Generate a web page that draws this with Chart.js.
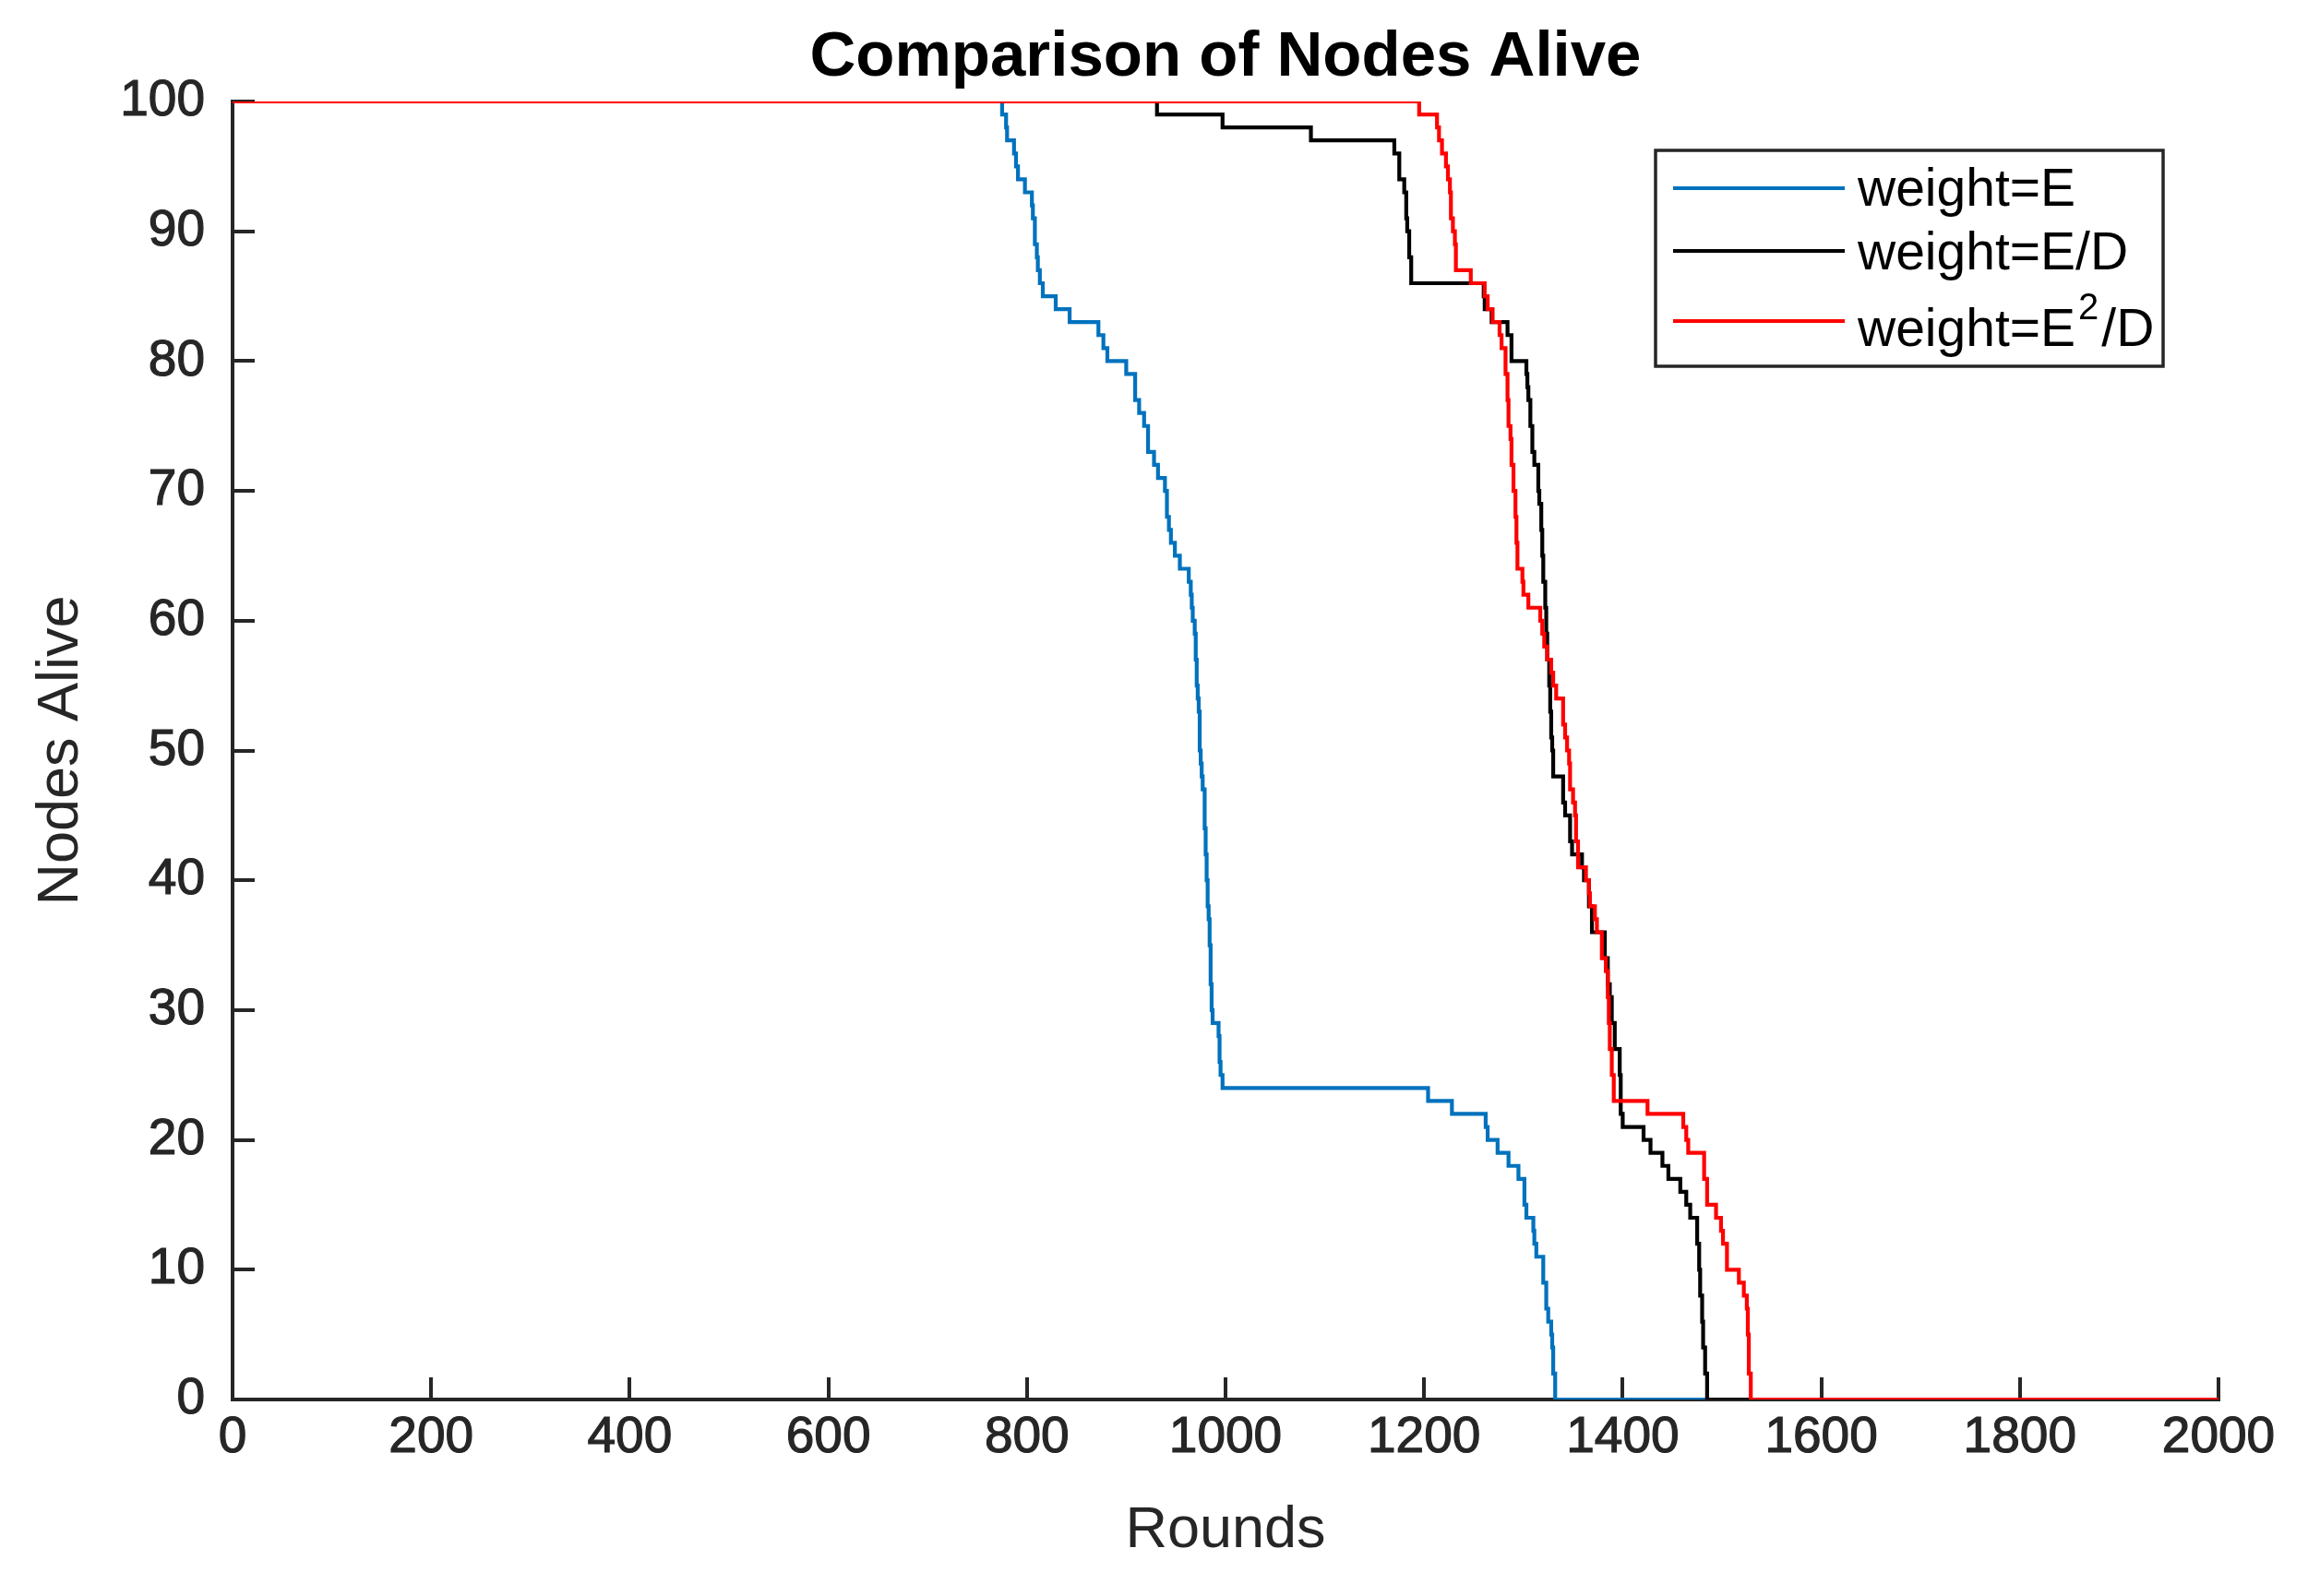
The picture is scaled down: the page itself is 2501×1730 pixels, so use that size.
<!DOCTYPE html>
<html>
<head>
<meta charset="utf-8">
<script src="https://cdn.jsdelivr.net/npm/chart.js@4.4.1/dist/chart.umd.min.js"></script>
<style>
  html, body { margin: 0; padding: 0; background: #fff; }
  canvas { display: block; }
</style>
</head>
<body>
<canvas id="aliveChart" width="2501" height="1730"></canvas>
<script>
// Nodes alive per round (step points: round where the count changes)
const roundsE = [0, 775, 779, 780, 787, 789, 791, 798, 805, 806, 808, 810, 811, 813, 816, 829, 843, 872, 877, 881,
  900, 909, 913, 918, 922, 928, 932, 939, 941, 943, 945, 949, 954, 963, 965, 966, 967, 969, 970, 971,
  972, 973, 974, 975, 976, 977, 979, 980, 981, 982, 983, 984, 985, 986, 987, 993, 994, 995, 997, 1204,
  1228, 1262, 1264, 1274, 1285, 1295, 1301, 1303, 1310, 1311, 1313, 1320, 1323, 1325, 1328, 1329, 1330, 1332, 2000];
const aliveE = [100, 99, 98, 97, 96, 95, 94, 93, 92, 91, 89, 88, 87, 86, 85, 84, 83, 82, 81, 80,
  79, 77, 76, 75, 73, 72, 71, 70, 68, 67, 66, 65, 64, 63, 62, 61, 60, 59, 57, 55,
  54, 53, 50, 49, 48, 47, 44, 42, 40, 38, 37, 35, 32, 30, 29, 28, 26, 25, 24, 23,
  22, 21, 20, 19, 18, 17, 15, 14, 13, 12, 11, 9, 7, 6, 5, 4, 2, 0, 0];

const roundsED = [0, 931, 997, 1086, 1170, 1175, 1180, 1182, 1183, 1185, 1187, 1260, 1261, 1268, 1284, 1288, 1303, 1304, 1305, 1307,
  1309, 1311, 1315, 1316, 1318, 1319, 1320, 1322, 1323, 1324, 1326, 1327, 1328, 1329, 1330, 1340, 1342, 1347, 1349, 1359,
  1361, 1366, 1369, 1382, 1385, 1387, 1389, 1392, 1397, 1398, 1400, 1421, 1428, 1440, 1446, 1458, 1464, 1468, 1475, 1477,
  1478, 1480, 1481, 1483, 1485, 2000];
const aliveED = [100, 99, 98, 97, 96, 94, 93, 91, 90, 88, 86, 85, 84, 83, 82, 80, 79, 78, 77, 75,
  73, 72, 70, 69, 67, 65, 63, 61, 59, 57, 55, 53, 51, 50, 48, 46, 45, 43, 42, 41,
  40, 38, 36, 34, 32, 31, 29, 27, 25, 22, 21, 20, 19, 18, 17, 16, 15, 14, 12, 10,
  8, 6, 4, 2, 0, 0];

const roundsE2D = [0, 1195, 1213, 1215, 1218, 1222, 1224, 1226, 1227, 1229, 1231, 1232, 1247, 1261, 1264, 1269, 1276, 1278, 1282, 1284,
  1285, 1287, 1288, 1290, 1292, 1293, 1294, 1299, 1300, 1305, 1317, 1319, 1321, 1324, 1328, 1330, 1333, 1340, 1342, 1344,
  1346, 1347, 1350, 1352, 1353, 1355, 1363, 1366, 1367, 1372, 1374, 1379, 1383, 1385, 1386, 1387, 1389, 1391, 1425, 1461,
  1464, 1466, 1482, 1485, 1494, 1499, 1501, 1505, 1517, 1522, 1525, 1526, 1527, 1529, 2000];
const aliveE2D = [100, 99, 98, 97, 96, 95, 94, 93, 91, 90, 89, 87, 86, 85, 84, 83, 82, 81, 79, 77,
  75, 74, 72, 70, 68, 66, 64, 63, 62, 61, 60, 59, 58, 57, 56, 55, 54, 52, 51, 50,
  49, 47, 46, 45, 43, 41, 40, 39, 38, 37, 36, 34, 33, 31, 29, 27, 25, 23, 22, 21,
  20, 19, 17, 15, 14, 13, 12, 10, 9, 8, 7, 5, 2, 0, 0];

const seriesLabels = ['weight=E', 'weight=E/D', 'weight=E\u00B2/D'];
const seriesColors = ['#0072BD', '#000000', '#FF0000'];
const titleText = 'Comparison of Nodes Alive';

const FONT = '"Liberation Sans", Arial, Helvetica, sans-serif';
const AXIS = '#262626';

function toPoints(xs, ys) {
  return xs.map((x, i) => ({ x: x, y: ys[i] }));
}

// legend text, with the squared E drawn as a raised "2"
function drawLabel(ctx, text, x, y) {
  const parts = text.split('\u00B2');
  ctx.font = '57px ' + FONT;
  ctx.fillText(parts[0], x, y);
  if (parts.length > 1) {
    x += ctx.measureText(parts[0]).width + 3;
    ctx.font = '40px ' + FONT;
    ctx.fillText('2', x, y - 29);
    x += ctx.measureText('2').width + 3;
    ctx.font = '57px ' + FONT;
    ctx.fillText(parts[1], x, y);
  }
}

// title + boxed legend in the MATLAB style
const overlay = {
  id: 'overlay',
  afterDraw(chart) {
    const { ctx, chartArea } = chart;
    ctx.save();
    ctx.fillStyle = '#000';
    ctx.font = 'bold 69px ' + FONT;
    ctx.textAlign = 'center';
    ctx.textBaseline = 'middle';
    ctx.fillText(titleText, (chartArea.left + chartArea.right) / 2, 63);

    const bx = chartArea.right - 610, by = chartArea.top + 53, bw = 550, bh = 234;
    ctx.fillStyle = '#fff';
    ctx.fillRect(bx, by, bw, bh);
    ctx.lineWidth = 3.5;
    ctx.strokeStyle = AXIS;
    ctx.strokeRect(bx, by, bw, bh);

    const lineRows = [41, 109, 185];
    const textRows = [60, 129, 212];
    ctx.textAlign = 'left';
    ctx.textBaseline = 'alphabetic';
    chart.data.datasets.forEach((ds, i) => {
      const y = by + lineRows[i];
      ctx.beginPath();
      ctx.strokeStyle = ds.borderColor;
      ctx.lineWidth = 4.2;
      ctx.moveTo(bx + 19, y);
      ctx.lineTo(bx + 205, y);
      ctx.stroke();
      ctx.fillStyle = '#000';
      drawLabel(ctx, ds.label, bx + 219, by + textRows[i]);
    });
    ctx.restore();
  }
};

const tickFont = { family: FONT, size: 55 };
const titleFont = { family: FONT, size: 63 };

const ctx = document.getElementById('aliveChart').getContext('2d');
new Chart(ctx, {
  type: 'line',
  data: {
    datasets: [
      { label: seriesLabels[0], data: toPoints(roundsE, aliveE), borderColor: seriesColors[0], order: 3 },
      { label: seriesLabels[1], data: toPoints(roundsED, aliveED), borderColor: seriesColors[1], order: 2 },
      { label: seriesLabels[2], data: toPoints(roundsE2D, aliveE2D), borderColor: seriesColors[2], order: 1 }
    ]
  },
  options: {
    responsive: false,
    animation: false,
    devicePixelRatio: 1,
    layout: { padding: { top: 110, right: 97, bottom: 0, left: 0 } },
    elements: {
      line: { borderWidth: 4.2, stepped: true, fill: false, tension: 0 },
      point: { radius: 0, hoverRadius: 0 }
    },
    plugins: {
      legend: { display: false },
      title: { display: false },
      tooltip: { enabled: false }
    },
    scales: {
      x: {
        type: 'linear',
        min: 0,
        max: 2000,
        afterFit: (s) => { s.height = 213; },
        border: { display: true, color: AXIS, width: 4 },
        grid: { drawOnChartArea: false, drawTicks: true, tickLength: -24, color: AXIS, lineWidth: 4 },
        ticks: {
          stepSize: 200, autoSkip: false, maxRotation: 0, padding: 33, color: AXIS, font: tickFont,
          textStrokeColor: AXIS, textStrokeWidth: 1.2,
          callback: (v) => String(v)
        },
        title: { display: true, text: 'Rounds', color: AXIS, font: titleFont, padding: { top: 0, bottom: 33 } }
      },
      y: {
        min: 0,
        max: 100,
        afterFit: (s) => { s.width = 252; },
        border: { display: true, color: AXIS, width: 4 },
        grid: { drawOnChartArea: false, drawTicks: true, tickLength: -24, color: AXIS, lineWidth: 4 },
        ticks: {
          stepSize: 10, padding: 54, color: AXIS, font: tickFont,
          textStrokeColor: AXIS, textStrokeWidth: 1.2,
          callback: (v) => String(v)
        },
        title: { display: true, text: 'Nodes Alive', color: AXIS, font: titleFont, padding: { top: 29, bottom: 0 } }
      }
    }
  },
  plugins: [overlay]
});
</script>
</body>
</html>
